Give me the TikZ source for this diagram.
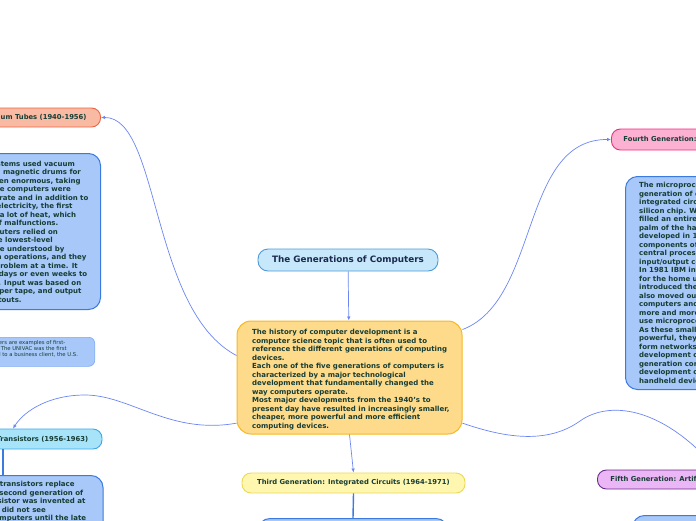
\documentclass[tikz,border=0pt]{standalone}
\usepackage{fontspec}
\setmainfont{DejaVu Sans}
\usetikzlibrary{arrows.meta,calc}
\definecolor{txt}{HTML}{173D35}
\definecolor{titletxt}{HTML}{1B2A4E}
\definecolor{titlef}{HTML}{C6E8FA}
\definecolor{titleb}{HTML}{4E9AD8}
\definecolor{centf}{HTML}{FEDB8B}
\definecolor{centb}{HTML}{F6B822}
\definecolor{vacf}{HTML}{F9BAA4}
\definecolor{vacb}{HTML}{EC6444}
\definecolor{descf}{HTML}{A7C8F8}
\definecolor{descb}{HTML}{3B7BE0}
\definecolor{smallb}{HTML}{7AA8F0}
\definecolor{secf}{HTML}{A7E3F9}
\definecolor{secb}{HTML}{3AA8E8}
\definecolor{thirdf}{HTML}{FFF6B0}
\definecolor{thirdb}{HTML}{ECD856}
\definecolor{fourf}{HTML}{FDB1D2}
\definecolor{fourb}{HTML}{EE2D7C}
\definecolor{fifthf}{HTML}{EBB6F5}
\definecolor{fifthb}{HTML}{6A2A86}
\definecolor{conncol}{HTML}{6B86F2}
\tikzset{
  hdr/.style={draw, line width=0.9pt, rounded corners=9pt, inner ysep=0pt, text=txt,
    font=\fontsize{6.8}{8.5}\selectfont\bfseries},
  descbox/.style={draw=descb, fill=descf, line width=1pt, rounded corners=12pt},
  desctxt/.style={align=left, inner sep=0pt, anchor=north west, text=txt,
    font=\fontsize{7}{8.5}\selectfont\bfseries},
  conn/.style={draw=conncol, line width=0.7pt, -{Latex[length=4pt,width=3.5pt]}},
  stem/.style={draw=descb, line width=1.4pt},
}
\begin{document}
\begin{tikzpicture}[x=1pt,y=-1pt]
\useasboundingbox (0,0) rectangle (696,520);
\clip (0,0) rectangle (696,520);

% title and centre
\node[hdr, fill=titlef, draw=titleb, minimum width=180pt, minimum height=22pt,
  rounded corners=10pt, text=titletxt, font=\fontsize{8.8}{10}\selectfont\bfseries]
  (title) at (348,260) {The Generations of Computers};
\node[draw=centb, fill=centf, line width=1pt, rounded corners=14pt,
  minimum width=225pt, minimum height=113pt] (central) at (349.5,377.5) {};
\node[desctxt] (centraltext) at (252,329) {The history of computer development is a\\
computer science topic that is often used to\\
reference the different generations of computing\\
devices.\\
Each one of the five generations of computers is\\
characterized by a major technological\\
development that fundamentally changed the\\
way computers operate.\\
Most major developments from the 1940's to\\
present day have resulted in increasingly smaller,\\
cheaper, more powerful and more efficient\\
computing devices.};

% first generation
\node[hdr, fill=vacf, draw=vacb, anchor=east, inner xsep=14pt, minimum height=19pt]
  (first) at (101,117.5) {First Generation: Vacuum Tubes (1940-1956)};
\node[descbox, anchor=north east, minimum width=200pt, minimum height=156pt]
  (firstdesc) at (101,153) {};
\node[desctxt] (firstdesctext) at (-88,160.5) {The first computer systems used vacuum\\
tubes for circuitry and magnetic drums for\\
memory, and were often enormous, taking\\
up entire rooms. These computers were\\
very expensive to operate and in addition to\\
using a great deal of electricity, the first\\
computers generated a lot of heat, which\\
was often the cause of malfunctions.\\
First generation computers relied on\\
machine language, the lowest-level\\
programming language understood by\\
computers, to perform operations, and they\\
could only solve one problem at a time. It\\
would take operators days or even weeks to\\
set-up a new problem. Input was based on\\
punched cards and paper tape, and output\\
was displayed on printouts.};
\node[draw=smallb, fill=descf, line width=0.6pt, rounded corners=6pt, anchor=north east,
  minimum width=195pt, minimum height=29pt] (univac) at (95,337) {};
\node[align=left, inner sep=0pt, anchor=north west, text=txt,
  font=\fontsize{5.3}{5.9}\selectfont] (univactext) at (-84,340.5)
  {The UNIVAC and ENIAC computers are examples of first-\\
generation computing devices. The UNIVAC was the first\\
commercial computer delivered to a business client, the U.S.};

% second generation
\node[hdr, fill=secf, draw=secb, minimum width=198pt, minimum height=20pt]
  (second) at (3,439) {Second Generation: Transistors (1956-1963)};
\node[descbox, anchor=north, minimum width=200pt, minimum height=70pt]
  (seconddesc) at (3,475) {};
\node[desctxt] (seconddesctext) at (-84,481) {The world would see transistors replace\\
vacuum tubes in the second generation of\\
computers. The transistor was invented at\\
Bell Labs in 1947 but did not see\\
widespread use in computers until the late\\
1950s.};
\draw[stem] (second.south) -- (seconddesc.north);

% third generation
\node[hdr, fill=thirdf, draw=thirdb, minimum width=223pt, minimum height=20pt]
  (third) at (353.5,483) {Third Generation: Integrated Circuits (1964-1971)};
\node[descbox, anchor=north, minimum width=190pt, minimum height=60pt]
  (thirddesc) at (353,518) {};
\draw[stem] (third.south) -- (thirddesc.north);

% fourth generation
\node[hdr, fill=fourf, draw=fourb, anchor=west, inner xsep=12pt, minimum height=21pt]
  (fourth) at (611,139.5) {Fourth Generation: Microprocessors (1971-Present)};
\node[descbox, anchor=north west, minimum width=200pt, minimum height=213pt]
  (fourthdesc) at (625,176) {};
\node[desctxt] (fourthdesctext) at (639,182) {The microprocessor brought the fourth\\
generation of computers, as thousands of\\
integrated circuits were built onto a single\\
silicon chip. What in the first generation\\
filled an entire room could now fit in the\\
palm of the hand. The Intel 4004 chip,\\
developed in 1971, located all the\\
components of the computer from the\\
central processing unit and memory to\\
input/output controls on a single chip.\\
In 1981 IBM introduced its first computer\\
for the home user, and in 1984 Apple\\
introduced the Macintosh. Microprocessors\\
also moved out of the realm of desktop\\
computers and into many areas of life as\\
more and more everyday products began to\\
use microprocessors.\\
As these small computers became more\\
powerful, they could be linked together to\\
form networks, which eventually led to the\\
development of the Internet. Fourth\\
generation computers also saw the\\
development of GUIs, the mouse and\\
handheld devices.};

% fifth generation
\node[hdr, fill=fifthf, draw=fifthb, anchor=west, inner xsep=13pt, minimum height=19pt]
  (fifth) at (597,479.5) {Fifth Generation: Artificial Intelligence (Present and Beyond)};
\node[descbox, anchor=north west, minimum width=220pt, minimum height=60pt]
  (fifthdesc) at (632,515) {};

% connectors
\draw[conn] (title) -- (central);
\draw[conn] (central.south) -- (third.north);
\draw[conn] (central.169) .. controls (150,310) and (160,117) .. (first.east);
\draw[conn] (central.202) .. controls (170,435) and (130,395) .. (85,395)
  .. controls (50,395) and (25,410) .. ($(second.north)+(10,0)$);
\draw[conn] (central.23) .. controls (540,300) and (520,139) .. (fourth.west);
\draw[conn] (central.338) .. controls (500,436) and (545,446) .. (580,421)
  .. controls (608,401) and (660,405) .. ($(fifth.north west)+(120,0)$);
\end{tikzpicture}
\end{document}
